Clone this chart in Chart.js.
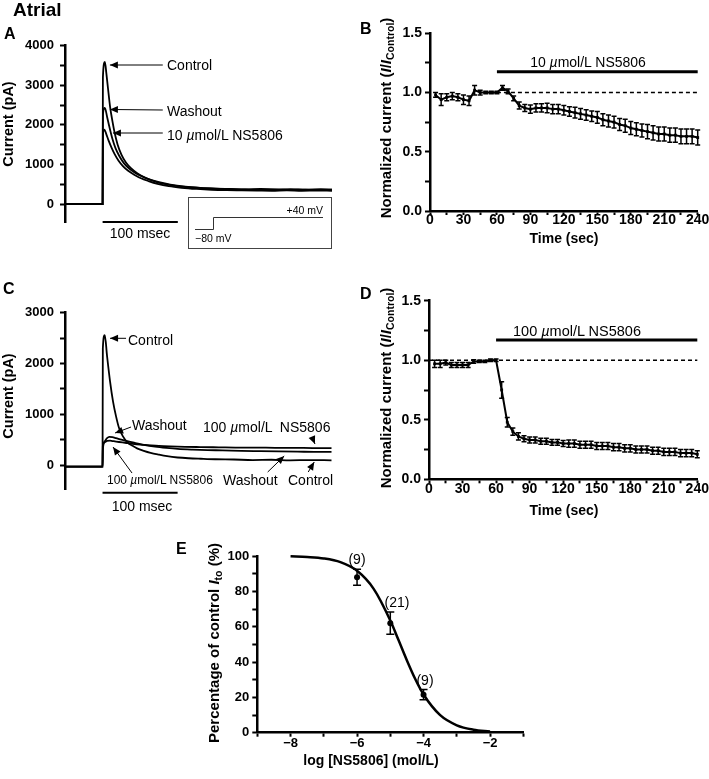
<!DOCTYPE html>
<html>
<head>
<meta charset="utf-8">
<script src="https://cdn.jsdelivr.net/npm/chart.js@4"></script>
<style>
  body { margin: 0; background: #fff; }
  #page { position: relative; width: 709px; height: 779px; overflow: hidden;
          font-family: "Liberation Sans", Arial, sans-serif; color: #000; }
  #page canvas { position: absolute; left: 0; top: 0; }
  .t { position: absolute; white-space: pre; line-height: 1; }
  .b { font-weight: bold; }
  .c { transform: translate(-50%, -50%); }
  .l { transform: translate(0, -50%); }
  .v { transform: translate(-50%, -50%) rotate(-90deg); }
  sub { font-size: 0.7em; vertical-align: -0.3em; line-height: 0; }
</style>
</head>
<body>
<div id="page">
  <canvas id="cA" width="709" height="779"></canvas>
  <canvas id="cB" width="709" height="779"></canvas>
  <canvas id="cC" width="709" height="779"></canvas>
  <canvas id="cD" width="709" height="779"></canvas>
  <canvas id="cE" width="709" height="779"></canvas>

  <!-- inset: voltage protocol -->
  <svg style="position:absolute;left:0;top:0" width="709" height="779">
    <rect x="188.5" y="197.5" width="143" height="51" fill="none" stroke="#444" stroke-width="1"/>
    <polyline points="195,229.5 213.5,229.5 213.5,217.5 323,217.5" fill="none" stroke="#333" stroke-width="1"/>
    <text x="323" y="214" text-anchor="end" font-family="Liberation Sans, Arial" font-size="10.5">+40 mV</text>
    <text x="195" y="242" font-family="Liberation Sans, Arial" font-size="10.5">−80 mV</text>
  </svg>

  <div class="t b" style="left:13px;top:0px;font-size:19px">Atrial</div>
  <div class="t b l" style="left:4px;top:34px;font-size:16px">A</div>
  <div class="t b l" style="left:360px;top:29px;font-size:16px">B</div>
  <div class="t b l" style="left:3px;top:289px;font-size:16px">C</div>
  <div class="t b l" style="left:360px;top:294px;font-size:16px">D</div>
  <div class="t b l" style="left:176px;top:549px;font-size:16px">E</div>

  <!-- axis titles -->
  <div class="t b v" style="left:8px;top:124px;font-size:14.5px">Current (pA)</div>
  <div class="t b v" style="left:8px;top:396px;font-size:14.5px">Current (pA)</div>
  <div class="t b v" style="left:385px;top:118px;font-size:15px">Normalized current (<i>I</i>/<i>I</i><sub>Control</sub>)</div>
  <div class="t b v" style="left:385px;top:388px;font-size:15px">Normalized current (<i>I</i>/<i>I</i><sub>Control</sub>)</div>
  <div class="t b v" style="left:213px;top:643px;font-size:15px">Percentage of control <i>I</i><sub>to</sub> (%)</div>
  <div class="t b c" style="left:564px;top:238px;font-size:14px">Time (sec)</div>
  <div class="t b c" style="left:564px;top:510px;font-size:14px">Time (sec)</div>
  <div class="t b c" style="left:371px;top:760px;font-size:14px">log [NS5806] (mol/L)</div>

  <!-- panel A labels -->
  <div class="t l" style="left:167px;top:65px;font-size:14px">Control</div>
  <div class="t l" style="left:167px;top:111px;font-size:14px">Washout</div>
  <div class="t l" style="left:167px;top:135px;font-size:14px">10 <i>µ</i>mol/L NS5806</div>
  <div class="t c" style="left:140px;top:233px;font-size:14px">100 msec</div>

  <!-- panel B / D labels -->
  <div class="t c" style="left:588px;top:62px;font-size:14px">10 <i>µ</i>mol/L NS5806</div>
  <div class="t c" style="left:577px;top:331px;font-size:14.5px">100 <i>µ</i>mol/L NS5806</div>

  <!-- panel C labels -->
  <div class="t l" style="left:128px;top:340px;font-size:14px">Control</div>
  <div class="t l" style="left:132px;top:425px;font-size:14px">Washout</div>
  <div class="t l" style="left:203px;top:427px;font-size:14px">100 <i>µ</i>mol/L  NS5806</div>
  <div class="t l" style="left:107px;top:480px;font-size:12px">100 <i>µ</i>mol/L NS5806</div>
  <div class="t l" style="left:223px;top:480px;font-size:14px">Washout</div>
  <div class="t l" style="left:288px;top:480px;font-size:14px">Control</div>
  <div class="t c" style="left:142px;top:506px;font-size:14px">100 msec</div>

  <!-- panel E labels -->
  <div class="t c" style="left:357px;top:559px;font-size:14px">(9)</div>
  <div class="t c" style="left:397px;top:602px;font-size:14px">(21)</div>
  <div class="t c" style="left:425px;top:680px;font-size:14px">(9)</div>
</div>

<script>
// ---------- data ----------
// A: currents (pA) vs time (ms), 10 umol/L NS5806
const aCtrlT = [-50, 0, 0.4, 3, 5, 7, 10, 13, 16, 20, 25, 31, 38, 46, 55, 65, 78, 93, 110, 130, 150, 170, 190, 210, 230, 250, 270, 290, 305];
const aCtrlV = [0, 0, 3200, 3590, 3300, 2950, 2450, 2100, 1800, 1500, 1250, 1050, 900, 780, 680, 600, 520, 470, 430, 405, 390, 380, 370, 380, 365, 375, 360, 375, 365];
const aWashT = [-50, 0, 0.4, 3, 6, 9, 13, 17, 22, 28, 35, 43, 52, 62, 75, 90, 110, 130, 150, 170, 190, 210, 230, 250, 270, 290, 305];
const aWashV = [0, 0, 2250, 2430, 2200, 1950, 1650, 1420, 1220, 1040, 900, 790, 700, 620, 550, 490, 440, 410, 390, 375, 370, 360, 370, 355, 365, 350, 360];
const aNsT = [-50, 0, 0.4, 2.5, 5, 8, 12, 16, 21, 27, 34, 42, 51, 61, 73, 88, 105, 125, 145, 165, 185, 205, 225, 245, 265, 285, 305];
const aNsV = [0, 0, 1750, 1880, 1760, 1600, 1420, 1260, 1100, 960, 840, 740, 650, 580, 510, 450, 410, 380, 360, 350, 345, 340, 335, 345, 335, 340, 335];
const aBarT = [0, 100];
const aBarV = [-455, -455];
const aYTicks = [0, 500, 1000, 1500, 2000, 2500, 3000, 3500, 4000];
const aYLabels = [0, 1000, 2000, 3000, 4000];

// C: currents (pA) vs time (ms), 100 umol/L NS5806
const cCtrlT = [-50, 0, 0.4, 3, 6, 10, 14, 18, 22, 27, 33, 40, 46, 55, 64, 75, 86, 100, 115, 131, 150, 175, 200, 225, 250, 275, 305];
const cCtrlV = [-30, -30, 2300, 2560, 2150, 1650, 1250, 960, 730, 570, 450, 380, 330, 280, 240, 205, 175, 150, 135, 125, 115, 110, 100, 105, 95, 100, 95];
const cWashT = [-50, 0, 0.4, 3, 6, 9, 13, 18, 25, 33, 42, 55, 70, 85, 100, 120, 140, 160, 185, 210, 235, 260, 285, 305];
const cWashV = [-30, -30, 300, 470, 530, 555, 550, 530, 500, 470, 440, 400, 365, 340, 320, 305, 295, 290, 280, 275, 270, 265, 260, 260];
const cNsT = [-50, 0, 0.4, 3, 6, 10, 15, 22, 30, 40, 50, 60, 75, 90, 110, 130, 155, 180, 205, 230, 255, 280, 305];
const cNsV = [-30, -30, 380, 450, 475, 480, 470, 455, 440, 420, 405, 395, 380, 370, 360, 355, 350, 345, 345, 340, 340, 335, 335];
const cBarT = [0, 100];
const cBarV = [-545, -545];
const cYTicks = [0, 500, 1000, 1500, 2000, 2500, 3000];
const cYLabels = [0, 1000, 2000, 3000];

// B: normalized current, 10 umol/L
const bTime = [5, 10, 15, 20, 25, 30, 35, 40, 45, 50, 55, 60, 65, 70, 75, 80, 85, 90, 95, 100, 105, 110, 115, 120,
               125, 130, 135, 140, 145, 150, 155, 160, 165, 170, 175, 180, 185, 190, 195, 200, 205, 210, 215, 220, 225, 230, 235, 240];
const bMean = [0.98, 0.94, 0.96, 0.97, 0.96, 0.94, 0.93, 1.02, 1.00, 1.00, 1.00, 1.00, 1.04, 1.01, 0.95, 0.89, 0.87, 0.86, 0.87, 0.87, 0.87, 0.86, 0.86, 0.85,
               0.84, 0.83, 0.82, 0.81, 0.80, 0.79, 0.77, 0.76, 0.75, 0.73, 0.72, 0.70, 0.69, 0.68, 0.67, 0.66, 0.65, 0.65, 0.64, 0.64, 0.63, 0.63, 0.63, 0.62];
const bErr = [0.02, 0.05, 0.03, 0.03, 0.03, 0.04, 0.04, 0.04, 0.02, 0.01, 0.01, 0.01, 0.02, 0.02, 0.02, 0.03, 0.03, 0.035, 0.035, 0.035, 0.04, 0.04, 0.04, 0.04,
              0.04, 0.045, 0.045, 0.045, 0.045, 0.05, 0.05, 0.05, 0.05, 0.05, 0.055, 0.055, 0.055, 0.055, 0.06, 0.06, 0.06, 0.06, 0.06, 0.06, 0.062, 0.062, 0.063, 0.063];
const bDrugT = [60, 240];
const bDrugV = [1.175, 1.175];
const bRefT = [60, 240];
const bRefV = [1, 1];

// D: normalized current, 100 umol/L
const dTime = bTime;
const dMean = [0.97, 0.97, 0.98, 0.96, 0.96, 0.96, 0.96, 0.99, 0.99, 0.99, 1.00, 1.00, 0.75, 0.48, 0.40, 0.36, 0.34, 0.33, 0.33, 0.32, 0.32, 0.31, 0.31, 0.30,
               0.30, 0.30, 0.29, 0.29, 0.29, 0.28, 0.28, 0.28, 0.27, 0.27, 0.26, 0.26, 0.25, 0.25, 0.25, 0.24, 0.24, 0.23, 0.23, 0.23, 0.22, 0.22, 0.22, 0.21];
const dErr = [0.03, 0.03, 0.02, 0.02, 0.02, 0.02, 0.02, 0.015, 0.01, 0.01, 0.01, 0.01, 0.07, 0.04, 0.03, 0.03, 0.025, 0.025, 0.025, 0.025, 0.025, 0.025, 0.025, 0.025,
              0.03, 0.03, 0.03, 0.03, 0.03, 0.03, 0.03, 0.03, 0.03, 0.03, 0.03, 0.03, 0.03, 0.03, 0.03, 0.03, 0.03, 0.03, 0.03, 0.03, 0.03, 0.03, 0.03, 0.03];
const dDrugT = [60, 240];
const dDrugV = [1.17, 1.17];
const dRefT = [0, 240];
const dRefV = [1, 1];

const timeTicks = [0, 15, 30, 45, 60, 75, 90, 105, 120, 135, 150, 165, 180, 195, 210, 225, 240];
const timeLabels = [0, 30, 60, 90, 120, 150, 180, 210, 240];
const normTicks = [0, 0.25, 0.5, 0.75, 1, 1.25, 1.5];
const normLabels = [0, 0.5, 1, 1.5];

// E: concentration-response
const eLogConc = [-6, -5, -4];
const eMean = [88, 62, 21.5];
const eErr = [4.5, 6.3, 2.9];
const eFitX = [-8, -7.5, -7, -6.5, -6, -5.5, -5, -4.75, -4.5, -4.25, -4, -3.5, -3, -2.5, -2];
const eFitY = [99.8, 99.4, 98.6, 96.5, 91.6, 81.4, 63.5, 52.3, 40.9, 30.4, 21.6, 9.9, 4.2, 1.7, 0.7];
const eXTicks = [-9, -8, -7, -6, -5, -4, -3, -2, -1];
const eXLabels = [-8, -6, -4, -2];
const eYTicks = [0, 10, 20, 30, 40, 50, 60, 70, 80, 90, 100];
const eYLabels = [0, 20, 40, 60, 80, 100];

// ---------- helpers ----------
Chart.defaults.font.family = '"Liberation Sans", Arial, sans-serif';
Chart.defaults.color = '#000';
Chart.defaults.animation = false;

const pts = (xs, ys) => xs.map((x, i) => ({ x: x, y: ys[i] }));

function scale(min, max, ticks, labels, fmt, fitSize, fontSize, horizontal, labelPad) {
  return {
    type: 'linear', min: min, max: max,
    afterBuildTicks: s => { s.ticks = ticks.map(v => ({ value: v })); },
    afterFit: s => {
      if (horizontal) s.height = fitSize; else s.width = fitSize;
      s.paddingLeft = s.paddingRight = s.paddingTop = s.paddingBottom = 0;
    },
    border: { color: '#000', width: 2.5 },
    grid: { drawOnChartArea: false, tickLength: horizontal ? 4 : 5, tickWidth: 2, tickColor: '#000' },
    ticks: { font: { size: fontSize, weight: 'bold' }, padding: labelPad, autoSkip: false, maxRotation: 0,
             callback: v => labels.includes(v) ? fmt(v) : '' }
  };
}

const line = (data, w, extra) => Object.assign({ data: data, showLine: true, borderColor: '#000',
  borderWidth: w, pointRadius: 0, clip: false }, extra || {});

// error bars drawn from each dataset's "errors" list
const errorBars = {
  id: 'errorBars',
  afterDatasetsDraw(chart) {
    const ctx = chart.ctx, ys = chart.scales.y;
    chart.data.datasets.forEach((ds, i) => {
      if (!ds.errors) return;
      const cap = ds.capSize || 2.5;
      ctx.save();
      ctx.strokeStyle = '#000';
      ctx.lineWidth = ds.errWidth || 1.5;
      chart.getDatasetMeta(i).data.forEach((p, j) => {
        const v = ds.data[j].y, e = ds.errors[j];
        const top = ys.getPixelForValue(v + e), bot = ys.getPixelForValue(v - e);
        ctx.beginPath();
        ctx.moveTo(p.x, top); ctx.lineTo(p.x, bot);
        ctx.moveTo(p.x - cap, top); ctx.lineTo(p.x + cap, top);
        ctx.moveTo(p.x - cap, bot); ctx.lineTo(p.x + cap, bot);
        ctx.stroke();
      });
      ctx.restore();
    });
  }
};

// annotation arrows, given as [fromX, fromY, toX, toY] in data units
const arrows = {
  id: 'arrows',
  afterDatasetsDraw(chart, args, opts) {
    if (!opts.list) return;
    const { ctx, scales: { x, y } } = chart;
    ctx.save();
    ctx.strokeStyle = '#000';
    ctx.fillStyle = '#000';
    ctx.lineWidth = 1;
    opts.list.forEach(a => {
      const x0 = x.getPixelForValue(a[0]), y0 = y.getPixelForValue(a[1]);
      const x1 = x.getPixelForValue(a[2]), y1 = y.getPixelForValue(a[3]);
      const ang = Math.atan2(y1 - y0, x1 - x0), L = 8, W = 3.5;
      ctx.beginPath(); ctx.moveTo(x0, y0); ctx.lineTo(x1, y1); ctx.stroke();
      ctx.beginPath();
      ctx.moveTo(x1, y1);
      ctx.lineTo(x1 - L * Math.cos(ang) + W * Math.sin(ang), y1 - L * Math.sin(ang) - W * Math.cos(ang));
      ctx.lineTo(x1 - L * Math.cos(ang) - W * Math.sin(ang), y1 - L * Math.sin(ang) + W * Math.cos(ang));
      ctx.closePath(); ctx.fill();
    });
    ctx.restore();
  }
};

function pad(left, top, right, bottom) {
  return { autoPadding: false, padding: { left: left, top: top, right: right, bottom: bottom } };
}
const basePlugins = list => ({ legend: { display: false }, tooltip: { enabled: false }, arrows: { list: list } });
const fmtInt = v => String(v);

// ---------- panel A ----------
new Chart(document.getElementById('cA'), {
  type: 'scatter',
  data: { datasets: [
    line(pts(aCtrlT, aCtrlV), 1.8, { cubicInterpolationMode: 'monotone' }),
    line(pts(aWashT, aWashV), 1.8, { cubicInterpolationMode: 'monotone' }),
    line(pts(aNsT, aNsV), 1.8, { cubicInterpolationMode: 'monotone' }),
    line(pts(aBarT, aBarV), 2)
  ] },
  options: {
    responsive: false, layout: pad(15, 45.7, 377, 556),
    plugins: basePlugins([[80, 3512, 9.7, 3512], [80, 2375, 9.7, 2388], [80, 1794, 13.7, 1794]]),
    scales: {
      x: { type: 'linear', min: -50, max: 305, display: false },
      y: scale(-480, 4000, aYTicks, aYLabels, fmtInt, 50, 13, false, 6)
    }
  },
  plugins: [arrows]
});

// ---------- panel C ----------
new Chart(document.getElementById('cC'), {
  type: 'scatter',
  data: { datasets: [
    line(pts(cCtrlT, cCtrlV), 1.8, { cubicInterpolationMode: 'monotone' }),
    line(pts(cWashT, cWashV), 1.8, { cubicInterpolationMode: 'monotone' }),
    line(pts(cNsT, cNsV), 1.8, { cubicInterpolationMode: 'monotone' }),
    line(pts(cBarT, cBarV), 2)
  ] },
  options: {
    responsive: false, layout: pad(15, 312.7, 377.5, 289),
    plugins: basePlugins([[31.3, 2496, 10, 2496], [38, 750, 16.7, 632], [279, 553, 283, 415],
                          [39.3, -156, 14, 356], [220, -136, 242, 179], [274, -136, 282, 61]]),
    scales: {
      x: { type: 'linear', min: -50, max: 305, display: false },
      y: scale(-490, 3000, cYTicks, cYLabels, fmtInt, 50, 13, false, 6)
    }
  },
  plugins: [arrows]
});

// ---------- panels B and D ----------
function timeCourse(id, tArr, mArr, eArr, drugT, drugV, refT, refV, layout) {
  new Chart(document.getElementById(id), {
    type: 'scatter',
    data: { datasets: [
      line(pts(tArr, mArr), 2, { errors: eArr, pointStyle: 'rect', pointRadius: 2, pointBackgroundColor: '#000', pointBorderWidth: 0, clip: false }),
      line(pts(refT, refV), 1.5, { borderDash: [4, 3] }),
      line(pts(drugT, drugV), 3)
    ] },
    options: {
      responsive: false, layout: layout,
      plugins: basePlugins(null),
      scales: {
        x: scale(0, 240, timeTicks, timeLabels, fmtInt, 30, 14, true, -3),
        y: scale(0, 1.5, normTicks, normLabels, v => v.toFixed(1), 50, 14, false, 3)
      }
    },
    plugins: [errorBars]
  });
}
timeCourse('cB', bTime, bMean, bErr, bDrugT, bDrugV, bRefT, bRefV, pad(380, 33.3, 11.3, 538));
timeCourse('cD', dTime, dMean, dErr, dDrugT, dDrugV, dRefT, dRefV, pad(379, 300.7, 11.7, 269.7));

// ---------- panel E ----------
new Chart(document.getElementById('cE'), {
  type: 'scatter',
  data: { datasets: [
    line(pts(eFitX, eFitY), 2.5, { cubicInterpolationMode: 'monotone' }),
    { data: pts(eLogConc, eMean), errors: eErr, capSize: 4, showLine: false, pointRadius: 3,
      pointBackgroundColor: '#000', pointBorderWidth: 0, clip: false }
  ] },
  options: {
    responsive: false, layout: pad(207.3, 556, 185.7, 21.3),
    plugins: basePlugins(null),
    scales: {
      x: scale(-9, -1, eXTicks, eXLabels, v => '\u2212' + Math.abs(v), 25, 13, true, -1),
      y: scale(0, 100, eYTicks, eYLabels, fmtInt, 50, 13, false, 3)
    }
  },
  plugins: [errorBars]
});
</script>
</body>
</html>
